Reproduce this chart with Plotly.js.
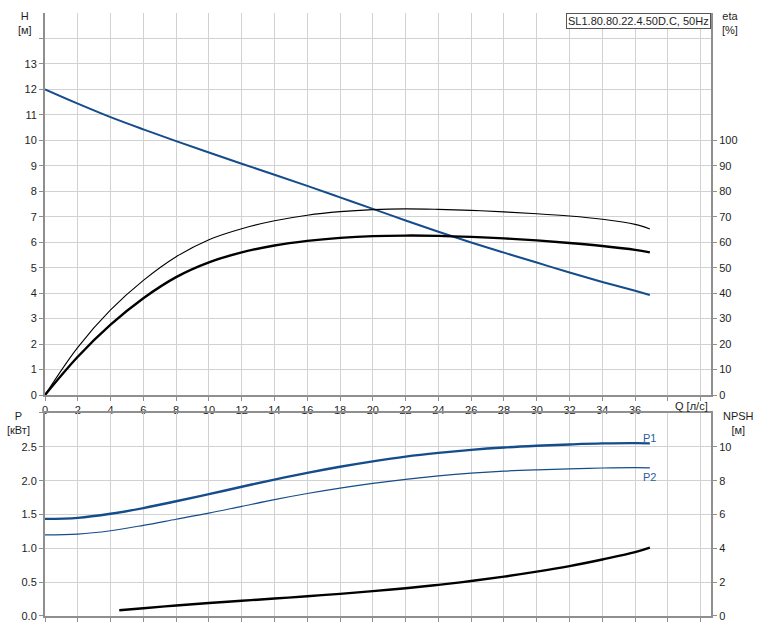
<!DOCTYPE html>
<html>
<head>
<meta charset="utf-8">
<script src="https://cdn.plot.ly/plotly-3.0.1.min.js"></script>
<style>
html,body{margin:0;padding:0;background:#fff;}
#chart{width:759px;height:627px;}
</style>
</head>
<body>
<div id="chart"></div>
<script>
// Flow rate Q [л/с]
const q = [0, 2, 4, 6, 8, 10, 12, 14, 16, 18, 20, 22, 24, 26, 28, 30, 32, 34, 36, 36.9];
// Head H [м]
const headH = [12.0, 11.44, 10.91, 10.43, 9.97, 9.52, 9.08, 8.65, 8.21, 7.76, 7.31, 6.85, 6.41, 5.99, 5.59, 5.2, 4.81, 4.44, 4.09, 3.93];
// Efficiency eta [%] (thin = pump, thick = total)
const etaThin = [0, 18.7, 33.4, 45.0, 54.3, 61.0, 65.3, 68.4, 70.6, 72.0, 72.8, 73.1, 72.9, 72.5, 71.9, 71.2, 70.3, 69.0, 67.0, 65.2];
const etaThick = [0, 15, 27.6, 38.0, 46.3, 52.1, 56.0, 58.7, 60.5, 61.7, 62.4, 62.6, 62.5, 62.1, 61.5, 60.7, 59.7, 58.5, 57.0, 56.0];
// Power P [кВт]
const p1 = [1.435, 1.45, 1.51, 1.595, 1.695, 1.80, 1.91, 2.015, 2.115, 2.205, 2.285, 2.355, 2.41, 2.455, 2.49, 2.515, 2.535, 2.55, 2.555, 2.55];
const p2 = [1.20, 1.21, 1.26, 1.34, 1.43, 1.52, 1.62, 1.72, 1.81, 1.89, 1.96, 2.02, 2.07, 2.11, 2.14, 2.16, 2.175, 2.187, 2.193, 2.19];
// NPSH [м]
const qNpsh = [4.53, 6, 8, 10, 12, 14, 16, 18, 20, 22, 24, 26, 28, 30, 32, 34, 36, 36.9];
const npsh = [0.34, 0.46, 0.62, 0.77, 0.90, 1.03, 1.17, 1.31, 1.47, 1.64, 1.84, 2.07, 2.33, 2.62, 2.95, 3.34, 3.77, 4.04];

// Tick labels
const qTicks = [0,2,4,6,8,10,12,14,16,18,20,22,24,26,28,30,32,34,36,38,40];
const qTickText = qTicks.map(v => v <= 36 ? String(v) : '');
const hTicks = [0,1,2,3,4,5,6,7,8,9,10,11,12,13,14];
const hTickText = hTicks.map(v => v <= 13 ? String(v) : '');
const etaTicks = [0,10,20,30,40,50,60,70,80,90,100];
const pTicks = [0,0.5,1.0,1.5,2.0,2.5,3.0];
const pTickText = ['0.0','0.5','1.0','1.5','2.0','2.5',''];
const npshTicks = [0,2,4,6,8,10];

const blue = '#154c8c';
const axisGrey = '#8f8f8f';
const gridGrey = '#d2d2d2';
const txt = '#1e1e1e';
const font = {family: 'Liberation Sans, Arial, sans-serif', size: 11, color: txt};

const traces = [
  {x: q, y: headH, xaxis: 'x', yaxis: 'y', mode: 'lines', line: {color: blue, width: 2, shape: 'spline', smoothing: 1}, hoverinfo: 'skip'},
  {x: q, y: etaThin, xaxis: 'x', yaxis: 'y2', mode: 'lines', line: {color: '#000', width: 1.1, shape: 'spline', smoothing: 1}, hoverinfo: 'skip'},
  {x: q, y: etaThick, xaxis: 'x', yaxis: 'y2', mode: 'lines', line: {color: '#000', width: 2.4, shape: 'spline', smoothing: 1}, hoverinfo: 'skip'},
  {x: q, y: p1, xaxis: 'x2', yaxis: 'y3', mode: 'lines', line: {color: blue, width: 2.4, shape: 'spline', smoothing: 1}, hoverinfo: 'skip'},
  {x: q, y: p2, xaxis: 'x2', yaxis: 'y3', mode: 'lines', line: {color: blue, width: 1.2, shape: 'spline', smoothing: 1}, hoverinfo: 'skip'},
  {x: qNpsh, y: npsh, xaxis: 'x2', yaxis: 'y4', mode: 'lines', line: {color: '#000', width: 2.4, shape: 'spline', smoothing: 1}, hoverinfo: 'skip'}
];

const xCommon = {
  range: [0, 40.63], tickmode: 'array', tickvals: qTicks, ticktext: qTickText,
  showgrid: true, gridcolor: gridGrey, gridwidth: 1, zeroline: false,
  showline: true, linecolor: axisGrey, linewidth: 2,
  ticks: 'outside', ticklen: 4, tickcolor: axisGrey, tickfont: font, fixedrange: true
};
const yCommon = {
  zeroline: false, showline: true, linecolor: axisGrey, linewidth: 2,
  ticks: 'outside', ticklen: 4, tickcolor: axisGrey, tickfont: font, fixedrange: true
};

const layout = {
  width: 759, height: 627,
  margin: {l: 45, r: 48, t: 13, b: 11},
  paper_bgcolor: '#fff', plot_bgcolor: '#fff',
  showlegend: false, font: font,
  xaxis: Object.assign({}, xCommon, {domain: [0, 1], anchor: 'y'}),
  yaxis: Object.assign({}, yCommon, {domain: [0.3665, 1], range: [0, 15], tickmode: 'array', tickvals: hTicks, ticktext: hTickText, showgrid: true, gridcolor: gridGrey}),
  yaxis2: Object.assign({}, yCommon, {overlaying: 'y', side: 'right', anchor: 'x', range: [0, 150], tickmode: 'array', tickvals: etaTicks, showgrid: false}),
  xaxis2: Object.assign({}, xCommon, {domain: [0, 1], anchor: 'y3', showticklabels: false, mirror: true}),
  yaxis3: Object.assign({}, yCommon, {domain: [0, 0.3367], anchor: 'x2', range: [0, 3], tickmode: 'array', tickvals: pTicks, ticktext: pTickText, showgrid: true, gridcolor: gridGrey}),
  yaxis4: Object.assign({}, yCommon, {overlaying: 'y3', side: 'right', anchor: 'x2', range: [0, 12], tickmode: 'array', tickvals: npshTicks, showgrid: false}),
  annotations: [
    {text: 'SL1.80.80.22.4.50D.C, 50Hz', xref: 'paper', yref: 'paper', x: 1, y: 1, xanchor: 'right', yanchor: 'top',
     showarrow: false, font: {family: font.family, size: 11, color: txt}, bordercolor: '#555', borderwidth: 1, borderpad: 1, bgcolor: '#fff'},
    {text: 'H<br>[м]', xref: 'paper', yref: 'paper', x: -0.030, y: 0.9826, xanchor: 'center', yanchor: 'middle', showarrow: false, font: font},
    {text: 'eta<br>[%]', xref: 'paper', yref: 'paper', x: 1.0285, y: 0.9826, xanchor: 'center', yanchor: 'middle', showarrow: false, font: font},
    {text: 'P<br>[кВт]', xref: 'paper', yref: 'paper', x: -0.0405, y: 0.320, xanchor: 'center', yanchor: 'middle', showarrow: false, font: font},
    {text: 'NPSH<br>[м]', xref: 'paper', yref: 'paper', x: 1.0413, y: 0.320, xanchor: 'center', yanchor: 'middle', showarrow: false, font: font},
    {text: 'Q [л/с]', xref: 'paper', yref: 'paper', x: 0.9707, y: 0.349, xanchor: 'center', yanchor: 'middle', showarrow: false, font: font},
    {text: 'P1', xref: 'x2', yref: 'y3', x: q[q.length-1], y: p1[p1.length-1], xanchor: 'center', yanchor: 'bottom', yshift: -3, showarrow: false, font: {family: font.family, size: 11, color: '#2b5d9b'}},
    {text: 'P2', xref: 'x2', yref: 'y3', x: q[q.length-1], y: p2[p2.length-1], xanchor: 'center', yanchor: 'top', yshift: -1, showarrow: false, font: {family: font.family, size: 11, color: '#2b5d9b'}}
  ]
};

Plotly.newPlot('chart', traces, layout, {staticPlot: true, displayModeBar: false});
</script>
</body>
</html>
